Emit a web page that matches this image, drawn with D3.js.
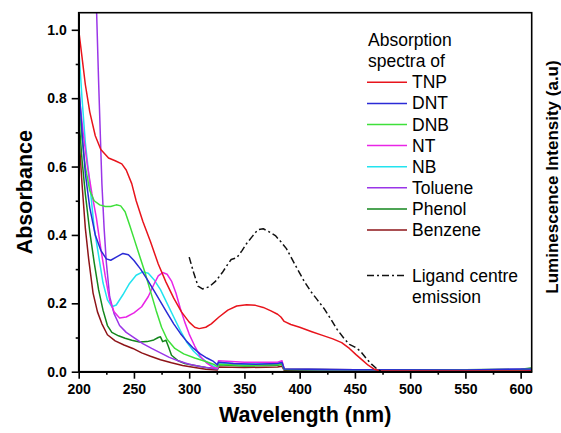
<!DOCTYPE html>
<html>
<head>
<meta charset="utf-8">
<script src="https://cdn.jsdelivr.net/npm/d3@7"></script>
<style>
body { margin: 0; background: #fff; }
svg text { font-family: Arial, "Liberation Sans", sans-serif; }
.axis path, .axis line { stroke: #000; stroke-width: 1.6; }
.axis text { font-size: 14px; font-weight: bold; fill: #000; }
.curve { fill: none; stroke-width: 1.5; stroke-linejoin: round; }
.legend text { font-size: 17.5px; fill: #000; }
</style>
</head>
<body>
<div id="chart"></div>
<script>
// absorption spectra [wavelength nm, absorbance]
let tnp = [[200,1.0],[203,0.92],[206,0.84],[210,0.76],[215,0.69],[220,0.65],[227,0.625],[233,0.617],[239,0.608],[243,0.59],[248,0.55],[252,0.5],[258,0.44],[265,0.38],[272,0.315],[279,0.262],[286,0.215],[293,0.175],[300,0.145],[305,0.13],[309,0.126],[315,0.13],[320,0.14],[327,0.16],[335,0.18],[343,0.192],[352,0.196],[360,0.194],[367,0.188],[374,0.178],[380,0.168],[383,0.16],[386,0.147],[392,0.138],[400,0.13],[411,0.117],[420,0.107],[430,0.096],[438,0.085],[445,0.068],[451,0.05],[457,0.033],[462,0.019],[467,0.008],[472,0.003],[500,0.002],[610,0.002]];
let dnt = [[200,0.85],[203,0.7],[206,0.58],[210,0.48],[215,0.4],[220,0.355],[225,0.33],[229,0.326],[234,0.335],[240,0.346],[245,0.342],[250,0.325],[256,0.3],[262,0.27],[268,0.238],[274,0.205],[280,0.172],[286,0.14],[292,0.112],[298,0.088],[304,0.068],[310,0.052],[316,0.04],[322,0.03],[325.5,0.02],[326.5,0.028],[340,0.024],[360,0.022],[380,0.024],[384,0.027],[386,0.008],[450,0.006],[550,0.005],[610,0.008]];
let dnb = [[200,0.79],[203,0.68],[206,0.6],[210,0.53],[214,0.5],[219,0.488],[224,0.483],[229,0.483],[234,0.488],[238,0.485],[242,0.468],[246,0.43],[250,0.39],[255,0.34],[260,0.29],[265,0.235],[270,0.18],[275,0.13],[280,0.095],[287,0.068],[295,0.052],[305,0.04],[315,0.03],[322,0.022],[325.5,0.015],[326.5,0.022],[350,0.018],[380,0.02],[384,0.024],[386,0.007],[450,0.006],[550,0.005],[600,0.006],[610,0.01]];
let nt = [[200,0.82],[204,0.7],[208,0.6],[212,0.52],[216,0.45],[220,0.36],[224,0.28],[228,0.21],[232,0.175],[237,0.157],[243,0.16],[250,0.172],[257,0.19],[263,0.22],[268,0.255],[272,0.28],[276,0.29],[280,0.285],[284,0.265],[288,0.23],[292,0.185],[296,0.145],[300,0.11],[305,0.075],[310,0.045],[316,0.025],[322,0.012],[325.5,0.01],[326.5,0.032],[350,0.028],[380,0.028],[384,0.032],[386,0.008],[450,0.006],[550,0.005],[610,0.007]];
let nb = [[200,0.95],[203,0.8],[206,0.67],[210,0.55],[214,0.42],[218,0.34],[222,0.26],[226,0.21],[230,0.19],[234,0.195],[240,0.225],[246,0.258],[252,0.282],[258,0.292],[263,0.288],[268,0.27],[274,0.24],[280,0.2],[286,0.16],[292,0.12],[298,0.085],[304,0.06],[310,0.042],[316,0.028],[322,0.016],[325.5,0.01],[326.5,0.026],[350,0.022],[380,0.023],[384,0.026],[386,0.007],[450,0.005],[550,0.005],[610,0.007]];
let toluene = [[214,1.3],[218,0.85],[221,0.55],[223,0.42],[225,0.32],[228,0.22],[232,0.17],[237,0.135],[243,0.115],[250,0.1],[258,0.082],[266,0.068],[274,0.055],[282,0.042],[290,0.032],[300,0.022],[310,0.015],[320,0.01],[325.5,0.008],[326.5,0.025],[350,0.02],[380,0.022],[384,0.028],[386,0.007],[450,0.005],[550,0.005],[610,0.006]];
let phenol = [[200,0.75],[203,0.62],[206,0.52],[210,0.41],[214,0.32],[218,0.24],[222,0.18],[226,0.135],[230,0.115],[236,0.105],[242,0.098],[248,0.092],[255,0.087],[262,0.088],[268,0.093],[272,0.1],[274,0.102],[276,0.088],[279,0.092],[281,0.075],[284,0.048],[290,0.032],[296,0.024],[305,0.018],[315,0.012],[325.5,0.008],[326.5,0.02],[350,0.017],[380,0.019],[384,0.022],[386,0.006],[450,0.006],[550,0.006],[600,0.007],[610,0.011]];
let benzene = [[200,0.7],[203,0.55],[206,0.42],[209,0.33],[213,0.23],[217,0.175],[221,0.14],[226,0.108],[233,0.09],[241,0.078],[249,0.068],[257,0.055],[265,0.045],[274,0.035],[284,0.026],[294,0.018],[305,0.012],[315,0.007],[325.5,0.005],[326.5,0.014],[350,0.012],[380,0.014],[384,0.016],[386,0.004],[500,0.003],[610,0.003]];
// ligand centre emission (scaled onto the same axis)
let ligand = [[300,0.335],[304,0.29],[308,0.25],[312,0.242],[318,0.248],[324,0.265],[330,0.29],[334,0.31],[338,0.328],[343,0.333],[348,0.355],[352,0.375],[357,0.395],[362,0.415],[367,0.418],[372,0.41],[378,0.398],[383,0.38],[388,0.36],[393,0.33],[398,0.3],[404,0.265],[410,0.235],[416,0.21],[422,0.185],[428,0.155],[434,0.123],[440,0.098],[445,0.08],[450,0.072],[455,0.06],[460,0.04],[465,0.022],[470,0.008],[474,0.0]];

let seriesNames = ["TNP","DNT","DNB","NT","NB","Toluene","Phenol","Benzene"];
let seriesData = [tnp, dnt, dnb, nt, nb, toluene, phenol, benzene];
let seriesColors = ["#e8141c","#2b2bd6","#3ee03a","#e925e6","#22e3ef","#9a35e8","#13861c","#8e1418"];
let xTicks = [200,250,300,350,400,450,500,550,600];
let yTicks = [0,0.2,0.4,0.6,0.8,1.0];

let W = 561, H = 433;
let margin = {top:12.7, left:78.7, right:29.3, bottom:61.3};
let width = W - margin.left - margin.right, height = H - margin.top - margin.bottom;

let x = d3.scaleLinear().domain([200,610]).range([0,width]);
let y = d3.scaleLinear().domain([0,1.05]).range([height,0]);

let svg = d3.select('#chart').append('svg').attr('width',W).attr('height',H)
    .append('g').attr('transform','translate('+margin.left+','+margin.top+')');

svg.append('clipPath').attr('id','clip').append('rect').attr('width',width).attr('height',height);

let line = d3.line().x(d=>x(d[0])).y(d=>y(d[1]));

let plot = svg.append('g').attr('clip-path','url(#clip)');
for(let i=seriesData.length-1;i>=0;i--){
    plot.append('path').datum(seriesData[i]).attr('class','curve')
        .attr('stroke',seriesColors[i]).attr('d',line);
}
plot.append('path').datum(ligand).attr('class','curve')
    .attr('stroke','#111').attr('stroke-width',1.4).attr('stroke-dasharray','7,3,2,3').attr('d',line);

// minor ticks
let xMinor = d3.axisBottom(x).tickValues(d3.range(225,610,50)).tickSize(3).tickFormat('');
let yMinor = d3.axisLeft(y).tickValues([0.1,0.3,0.5,0.7,0.9]).tickSize(3).tickFormat('');
svg.append('g').attr('class','axis').attr('transform','translate(0,'+height+')').call(xMinor).select('.domain').remove();
svg.append('g').attr('class','axis').call(yMinor).select('.domain').remove();

let xAxis = d3.axisBottom(x).tickValues(xTicks).tickSize(7).tickSizeOuter(0).tickPadding(5);
let yAxis = d3.axisLeft(y).tickValues(yTicks).tickFormat(d3.format('.1f')).tickSize(7).tickSizeOuter(0).tickPadding(5);
svg.append('g').attr('class','axis').attr('transform','translate(0,'+height+')').call(xAxis);
svg.append('g').attr('class','axis').call(yAxis);

// frame
svg.append('rect').attr('width',width).attr('height',height)
    .attr('fill','none').attr('stroke','#000').attr('stroke-width',1.6);

// axis titles
svg.append('text').attr('x',width/2).attr('y',H-margin.top-11).attr('text-anchor','middle')
    .attr('font-size','21.5px').attr('font-weight','bold').text('Wavelength (nm)');
svg.append('text').attr('transform','translate('+(32-margin.left)+','+(height/2)+') rotate(-90)')
    .attr('text-anchor','middle').attr('font-size','21.5px').attr('font-weight','bold').text('Absorbance');
svg.append('text').attr('transform','translate('+(558-margin.left)+','+(177-margin.top)+') rotate(-90)')
    .attr('text-anchor','middle').attr('font-size','17px').attr('font-weight','bold').text('Luminescence Intensity (a.u)');

// legend
let lg = d3.select('svg').append('g').attr('class','legend');
lg.append('text').attr('x',368).attr('y',46).text('Absorption');
lg.append('text').attr('x',368).attr('y',67).text('spectra of');
seriesNames.forEach(function(name,i){
    let by = 88.3 + i*21.1;
    lg.append('line').attr('x1',367).attr('x2',407).attr('y1',by-6).attr('y2',by-6)
        .attr('stroke',seriesColors[i]).attr('stroke-width',1.5);
    lg.append('text').attr('x',412).attr('y',by).text(name);
});
lg.append('line').attr('x1',367).attr('x2',407).attr('y1',275.5).attr('y2',275.5)
    .attr('stroke','#111').attr('stroke-width',1.4).attr('stroke-dasharray','7,3,2,3');
lg.append('text').attr('x',412).attr('y',281.7).text('Ligand centre');
lg.append('text').attr('x',412).attr('y',302.7).text('emission');
</script>
</body>
</html>
